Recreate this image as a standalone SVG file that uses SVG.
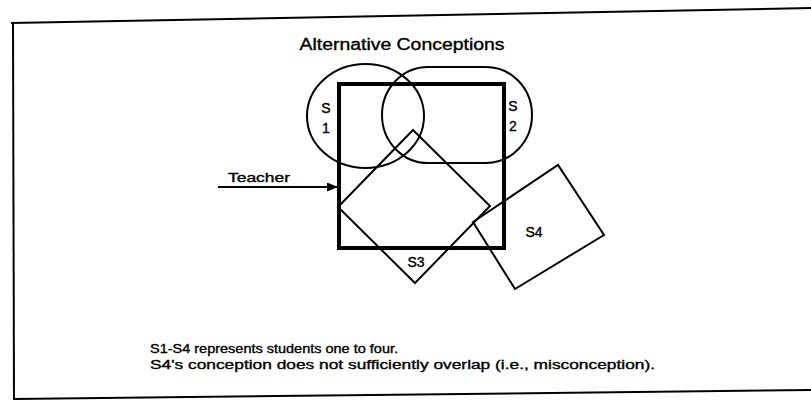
<svg xmlns="http://www.w3.org/2000/svg" width="811" height="402" viewBox="0 0 811 402">
<style>
.t{font-family:"Liberation Sans",Arial,sans-serif;fill:#000;stroke:#000;stroke-width:0.35}
.s{fill:none;stroke:#000;stroke-width:2;stroke-linejoin:miter}
.f{fill:none;stroke:#000;stroke-width:2}
</style>
<defs>
<marker id="ah" markerWidth="11" markerHeight="9" refX="11" refY="4.5" orient="auto" markerUnits="userSpaceOnUse"><path d="M0,0 L11,4.5 L0,9 Z" fill="#000"/></marker>
</defs>
<rect width="811" height="402" fill="#fff"/>
<g id="frame">
<path class="f" d="M11,23 L811,8"/>
<path class="f" d="M13,23 L14,400"/>
<path class="f" d="M14,399 L811,390"/>
</g>
<text class="t" x="402" y="50" font-size="16" text-anchor="middle" textLength="205" lengthAdjust="spacingAndGlyphs">Alternative Conceptions</text>
<g id="S1">
<ellipse class="s" cx="365.5" cy="116" rx="58.5" ry="52"/>
<text class="t" x="326" y="113" font-size="14" text-anchor="middle">S</text>
<text class="t" x="326" y="133" font-size="14" text-anchor="middle">1</text>
</g>
<g id="S2">
<path class="s" d="M428,67 L486,67 A46,48 0 0 1 532,115 A46,48 0 0 1 486,163 L428,163 A46,48 0 0 1 382,115 A46,48 0 0 1 428,67 Z"/>
<text class="t" x="513" y="111" font-size="14" text-anchor="middle">S</text>
<text class="t" x="513" y="131" font-size="14" text-anchor="middle">2</text>
</g>
<g id="teacher">
<rect x="339" y="84" width="165" height="164" fill="none" stroke="#000" stroke-width="4"/>
<text class="t" x="228" y="182" font-size="13" textLength="62" lengthAdjust="spacingAndGlyphs">Teacher</text>
</g>
<g id="S3">
<path class="s" d="M413,130 L490,206 L415,283 L338,207 Z"/>
<text class="t" x="416" y="267" font-size="14" text-anchor="middle">S3</text>
</g>
<g id="S4">
<path class="s" d="M473,222 L558,165 L604,235 L515,289 Z"/>
<text class="t" x="534" y="237" font-size="14" text-anchor="middle">S4</text>
</g>
<g id="connectors">
<path d="M218,187 L338,187" stroke="#000" stroke-width="2" marker-end="url(#ah)"/>
</g>
<g id="notes">
<text class="t" x="150" y="353" font-size="12.5" textLength="248" lengthAdjust="spacingAndGlyphs">S1-S4 represents students one to four.</text>
<text class="t" x="150" y="369" font-size="12.5" textLength="505" lengthAdjust="spacingAndGlyphs">S4's conception does not sufficiently overlap (i.e., misconception).</text>
</g>
</svg>
